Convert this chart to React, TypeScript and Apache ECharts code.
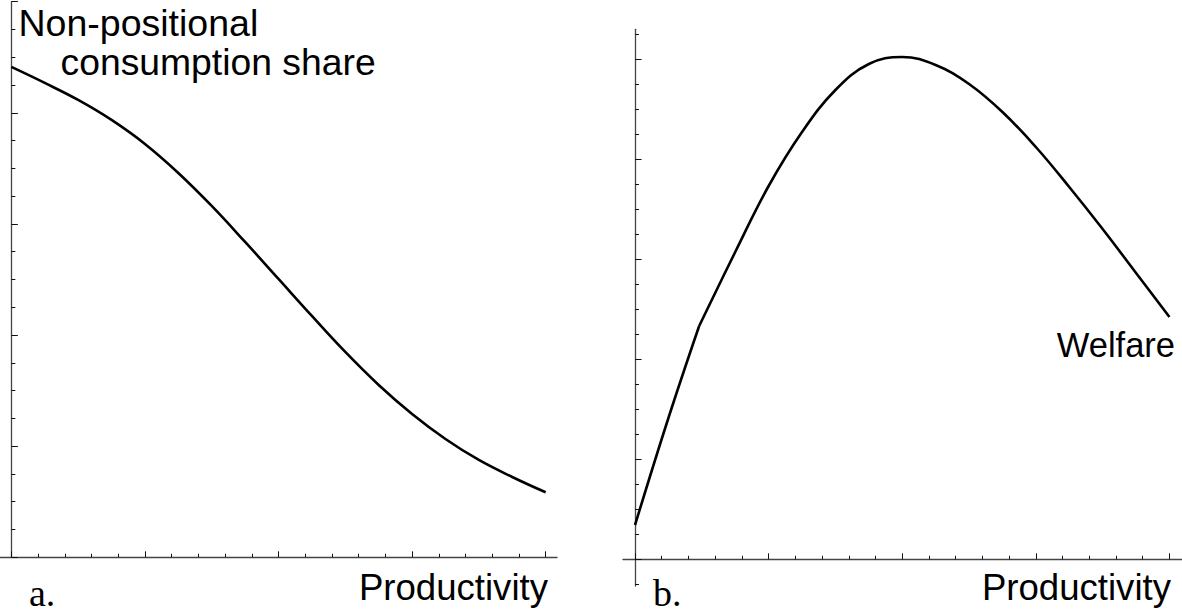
import React, { useEffect, useRef } from "react";
import * as echarts from "echarts";

// Panel a: non-positional consumption share vs productivity
const shareX = [0, 0.25, 0.5, 0.75, 1, 1.25, 1.5, 1.75, 2, 2.25, 2.5, 2.75, 3, 3.25, 3.5, 3.75, 4];
const shareY = [4.413, 4.269, 4.116, 3.936, 3.72, 3.459, 3.162, 2.838, 2.505, 2.172, 1.848, 1.551, 1.29, 1.065, 0.876, 0.723, 0.585];

// Panel b: welfare vs productivity (two pieces meeting at a kink)
const welfareRiseX = [0, 0.25, 0.48];
const welfareRiseY = [0.343, 1.413, 2.333];
const welfareX = [0.48, 0.75, 1, 1.25, 1.5, 1.75, 2, 2.25, 2.5, 2.75, 3, 3.25, 3.5, 3.75, 4];
const welfareY = [2.333, 3.073, 3.733, 4.273, 4.693, 4.953, 5.023, 4.943, 4.753, 4.473, 4.123, 3.723, 3.303, 2.863, 2.423];

// Tick positions
const majorTicksX = [0, 1, 2, 3, 4];
const minorTicksX = [0.2, 0.4, 0.6, 0.8, 1.2, 1.4, 1.6, 1.8, 2.2, 2.4, 2.6, 2.8, 3.2, 3.4, 3.6, 3.8];
const majorTicksYA = [0, 1, 2, 3, 4, 5];
const minorTicksYA = [0.25, 0.5, 0.75, 1.25, 1.5, 1.75, 2.25, 2.5, 2.75, 3.25, 3.5, 3.75, 4.25, 4.5, 4.75];
const majorTicksYB = [0, 1, 2, 3, 4, 5];
const minorTicksYB = [-0.25, 0.25, 0.5, 0.75, 1.25, 1.5, 1.75, 2.25, 2.5, 2.75, 3.25, 3.5, 3.75, 4.25, 4.5, 4.75, 5.25];

// Texts
const labelA1 = "Non-positional";
const labelA2 = "consumption share";
const labelB = "Welfare";
const xName = "Productivity";
const panelA = "a.";
const panelB = "b.";

const SANS = "'Liberation Sans', Arial, Helvetica, sans-serif";
const SERIF = "'Liberation Serif', 'Times New Roman', serif";
const AXIS_COLOR = "#444";

function zip(xs: number[], ys: number[]) {
  return xs.map((x, i) => [x, ys[i]]);
}

function xAxes(gridIndex: number, min: number, max: number, yIdx: number) {
  return [
    {
      type: "value", gridIndex, min, max, position: "bottom",
      axisLine: { show: true, onZero: true, onZeroAxisIndex: yIdx, lineStyle: { color: AXIS_COLOR, width: 1.3 } },
      axisTick: { show: true, inside: true, length: 6, customValues: majorTicksX, lineStyle: { color: "#111", width: 1 } },
      axisLabel: { show: false }, splitLine: { show: false },
    },
    {
      type: "value", gridIndex, min, max, position: "bottom",
      axisLine: { show: false, onZero: true, onZeroAxisIndex: yIdx },
      axisTick: { show: true, inside: true, length: 3.5, customValues: minorTicksX, lineStyle: { color: "#111", width: 1 } },
      axisLabel: { show: false }, splitLine: { show: false },
    },
  ];
}

function yAxes(gridIndex: number, min: number, max: number, xIdx: number, major: number[], minor: number[]) {
  return [
    {
      type: "value", gridIndex, min, max, position: "left",
      axisLine: { show: true, onZero: true, onZeroAxisIndex: xIdx, lineStyle: { color: AXIS_COLOR, width: 1.3 } },
      axisTick: { show: true, inside: true, length: 6.5, customValues: major, lineStyle: { color: "#111", width: 1 } },
      axisLabel: { show: false }, splitLine: { show: false },
    },
    {
      type: "value", gridIndex, min, max, position: "left",
      axisLine: { show: false, onZero: true, onZeroAxisIndex: xIdx },
      axisTick: { show: true, inside: true, length: 4, customValues: minor, lineStyle: { color: "#111", width: 1 } },
      axisLabel: { show: false }, splitLine: { show: false },
    },
  ];
}

function textEl(text: string, x: number, y: number, font: string, align: string) {
  return {
    type: "text", x, y, silent: true,
    style: { text, font, fill: "#000", align, verticalAlign: "middle", textAlign: align, textVerticalAlign: "middle" },
  };
}

export default function App() {
  const ref = useRef<HTMLDivElement>(null);
  useEffect(() => {
    if (!ref.current) return;
    const chart = echarts.init(ref.current, undefined, { renderer: "svg" });
    const lineStyle = { color: "#000", width: 2.6 };
    chart.setOption({
      animation: false,
      backgroundColor: "#fff",
      grid: [
        { left: 0, top: 1.7, width: 557, height: 555.6, containLabel: false },
        { left: 623, top: 29.3, width: 559, height: 556.7, containLabel: false },
      ],
      xAxis: [...xAxes(0, -0.085, 4.085, 0), ...xAxes(1, -0.09, 4.094, 2)],
      yAxis: [
        ...yAxes(0, 0, 5, 0, majorTicksYA, minorTicksYA),
        ...yAxes(1, -0.267, 5.3, 2, majorTicksYB, minorTicksYB),
      ],
      series: [
        { type: "line", xAxisIndex: 0, yAxisIndex: 0, data: zip(shareX, shareY), smooth: 0.4, showSymbol: false, symbol: "none", lineStyle, clip: false },
        { type: "line", xAxisIndex: 2, yAxisIndex: 2, data: zip(welfareRiseX, welfareRiseY), smooth: 0.4, showSymbol: false, symbol: "none", lineStyle, clip: false },
        { type: "line", xAxisIndex: 2, yAxisIndex: 2, data: zip(welfareX, welfareY), smooth: 0.4, showSymbol: false, symbol: "none", lineStyle, clip: false },
      ],
      graphic: [
        textEl(labelA1, 18.5, 23, `37.5px ${SANS}`, "left"),
        textEl(labelA2, 60.5, 62, `37.3px ${SANS}`, "left"),
        textEl(labelB, 1175, 345, `34.5px ${SANS}`, "right"),
        textEl(xName, 548, 587.5, `36.6px ${SANS}`, "right"),
        textEl(xName, 1171, 587.5, `36.6px ${SANS}`, "right"),
        textEl(panelA, 29, 593, `38px ${SERIF}`, "left"),
        textEl(panelB, 653, 593, `38px ${SERIF}`, "left"),
      ],
    });
    return () => chart.dispose();
  }, []);
  return <div ref={ref} style={{ position: "fixed", left: 0, top: 0, width: 1182, height: 614 }} />;
}
